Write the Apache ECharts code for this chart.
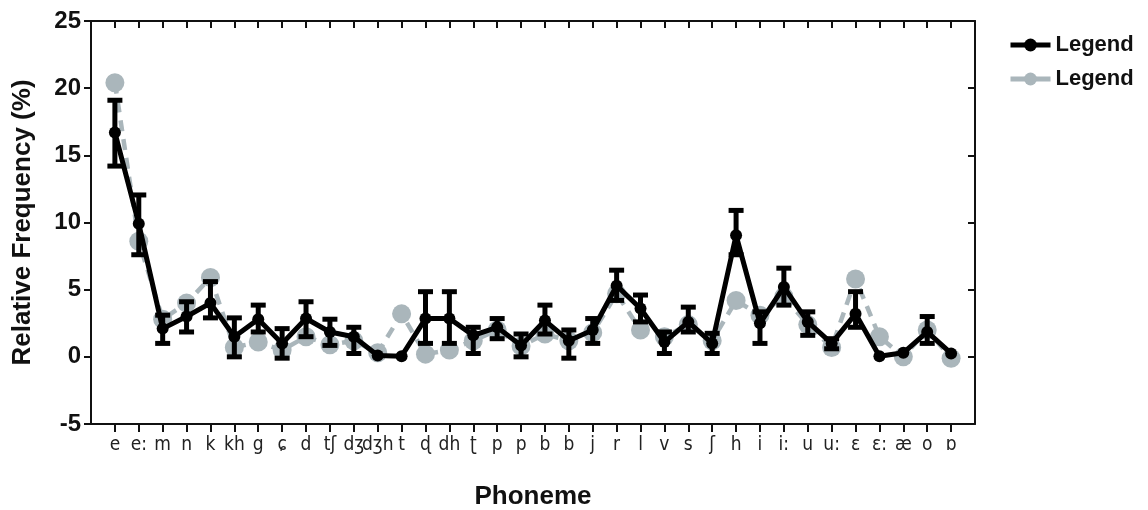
<!DOCTYPE html>
<html><head><meta charset="utf-8">
<script src="https://cdn.jsdelivr.net/npm/echarts@6/dist/echarts.min.js"></script>
<style>html,body{margin:0;padding:0;background:#fff}#c{width:1148px;height:510px}</style>
</head><body><div id="c"></div>
<script>
var categories = ['e','e:','m','n','k','kh','g','ɕ','d','tʃ','dʒ','dʒh','t','ɖ','dh','ʈ','p','p','b','b','j','r','l','v','s','ʃ','h','i','i:','u','u:','ɛ','ɛ:','æ','o','ɒ'];
var blackMean = [16.7, 9.9, 2.1, 3.0, 4.0, 1.5, 2.8, 1.0, 2.85, 1.85, 1.5, 0.1, 0.05, 2.85, 2.85, 1.6, 2.2, 0.85, 2.7, 1.2, 2.0, 5.3, 3.6, 1.1, 2.6, 1.0, 9.05, 2.5, 5.2, 2.6, 1.0, 3.2, 0.05, 0.3, 1.85, 0.25];
var blackHigh = [19.1, 12.05, 3.1, 4.1, 5.6, 2.9, 3.85, 2.1, 4.1, 2.8, 2.2, 0.1, 0.05, 4.85, 4.85, 2.2, 2.85, 1.7, 3.85, 2.0, 2.85, 6.45, 4.6, 1.85, 3.7, 1.75, 10.9, 3.35, 6.6, 3.35, 1.35, 4.85, 0.05, 0.3, 3.0, 0.25];
var blackLow = [14.2, 7.6, 1.0, 1.85, 2.9, 0.0, 1.85, -0.1, 1.5, 0.85, 0.25, 0.1, 0.05, 1.0, 1.0, 0.25, 1.35, 0.0, 1.7, -0.1, 1.0, 4.2, 2.6, 0.25, 1.85, 0.25, 7.6, 1.0, 3.85, 1.6, 0.6, 2.2, 0.05, 0.3, 1.0, 0.25];
var greyValues = [20.4, 8.6, 2.8, 4.0, 5.9, 0.7, 1.1, 0.5, 1.5, 0.9, 1.2, 0.3, 3.2, 0.2, 0.5, 1.2, 2.0, 0.8, 1.7, 1.2, 1.8, 4.7, 2.0, 1.5, 2.4, 1.2, 4.2, 3.1, 4.5, 2.4, 0.7, 5.8, 1.5, 0.0, 2.0, -0.1];
var yTicks = [-5, 0, 5, 10, 15, 20, 25];

var idx = categories.map(function(_, i){ return i; });
var axisColor = '#111';
var font = '"Liberation Sans", Arial, sans-serif';
var greyColor = '#aab6bb';

var chart = echarts.init(document.getElementById('c'));
chart.setOption({
  animation: false,
  backgroundColor: '#fff',
  grid: { left: 91, right: 173, top: 21, bottom: 86, containLabel: false, outerBoundsMode: 'none' },
  legend: {
    orient: 'vertical', left: 1003, top: 29, itemGap: 12,
    itemWidth: 40, itemHeight: 16,
    textStyle: { fontFamily: font, fontWeight: 'bold', fontSize: 22, color: '#111' },
    data: [
      { name: 'Legend A', lineStyle: { width: 5 } },
      { name: 'Legend B', lineStyle: { width: 5, type: 'solid' } }
    ],
    formatter: function(){ return 'Legend'; }
  },
  xAxis: [{
    type: 'value', min: -1, max: 36, position: 'bottom',
    name: 'Phoneme', nameLocation: 'middle', nameGap: 60,
    nameTextStyle: { fontFamily: font, fontWeight: 'bold', fontSize: 26, color: '#111' },
    axisLine: { show: true, onZero: false, lineStyle: { color: axisColor, width: 2 } },
    axisTick: { show: true, length: 8, lineStyle: { color: axisColor, width: 2 }, customValues: idx },
    axisLabel: { customValues: idx, margin: 12, fontFamily: '"Liberation Sans Narrow", "DejaVu Sans Condensed", sans-serif', fontSize: 19, color: '#222',
      formatter: function(v){ return categories[Math.round(v)] || ''; } },
    splitLine: { show: false }
  }, {
    type: 'value', min: -1, max: 36, position: 'top',
    axisLine: { show: true, onZero: false, lineStyle: { color: axisColor, width: 2 } },
    axisTick: { show: true, inside: true, length: 7, lineStyle: { color: axisColor, width: 2 }, customValues: idx },
    axisLabel: { show: false },
    splitLine: { show: false }
  }],
  yAxis: [{
    type: 'value', min: -5, max: 25, interval: 5, position: 'left',
    name: 'Relative Frequency (%)', nameLocation: 'middle', nameGap: 55,
    nameTextStyle: { fontFamily: font, fontWeight: 'bold', fontSize: 26, color: '#111' },
    axisLine: { show: true, onZero: false, lineStyle: { color: axisColor, width: 2 } },
    axisTick: { show: true, length: 7, lineStyle: { color: axisColor, width: 2 } },
    axisLabel: { margin: 10, fontFamily: font, fontWeight: 'bold', fontSize: 24, color: '#111',
      formatter: function(v){ return yTicks.indexOf(v) >= 0 ? String(v) : ''; } },
    splitLine: { show: false }
  }, {
    type: 'value', min: -5, max: 25, interval: 5, position: 'right',
    axisLine: { show: true, onZero: false, lineStyle: { color: axisColor, width: 2 } },
    axisTick: { show: true, inside: true, length: 7, lineStyle: { color: axisColor, width: 2 } },
    axisLabel: { show: false },
    splitLine: { show: false }
  }],
  series: [{
    name: 'Legend B', type: 'line', z: 2,
    data: greyValues.map(function(v, i){ return [i, v]; }),
    symbol: 'circle', symbolSize: 19,
    itemStyle: { color: greyColor },
    lineStyle: { color: greyColor, width: 4.5, type: [11, 8] }
  }, {
    name: 'Legend A', type: 'line', z: 4,
    data: blackMean.map(function(v, i){ return [i, v]; }),
    symbol: 'circle', symbolSize: 12,
    itemStyle: { color: '#000' },
    lineStyle: { color: '#000', width: 5 }
  }, {
    name: 'err', type: 'custom', z: 5,
    data: idx.map(function(i){ return [i, blackLow[i], blackHigh[i]]; }),
    renderItem: function(params, api){
      var x = api.value(0), lo = api.value(1), hi = api.value(2);
      if (hi - lo < 0.05) return null;
      var pHi = api.coord([x, hi]), pLo = api.coord([x, lo]);
      var hw = 7.5;
      var st = { stroke: '#000', lineWidth: 5 };
      return { type: 'group', children: [
        { type: 'line', shape: { x1: pHi[0], y1: pHi[1], x2: pLo[0], y2: pLo[1] }, style: st },
        { type: 'line', shape: { x1: pHi[0]-hw, y1: pHi[1], x2: pHi[0]+hw, y2: pHi[1] }, style: st },
        { type: 'line', shape: { x1: pLo[0]-hw, y1: pLo[1], x2: pLo[0]+hw, y2: pLo[1] }, style: st }
      ]};
    }
  }]
});
</script></body></html>
